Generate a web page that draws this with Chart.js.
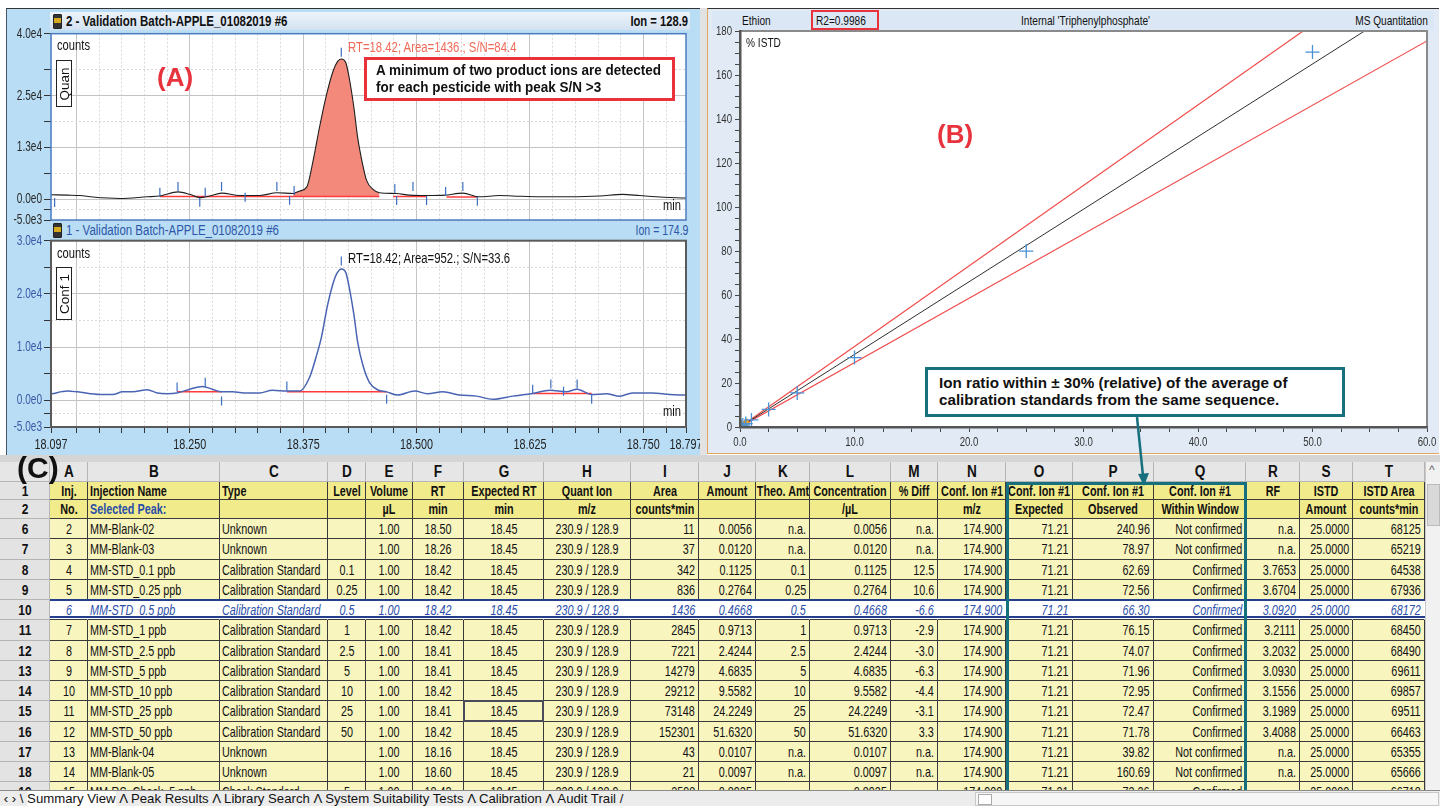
<!DOCTYPE html>
<html>
<head>
<meta charset="utf-8">
<title>Ethion - validation batch</title>
<script src="https://cdn.jsdelivr.net/npm/chart.js@4.4.1/dist/chart.umd.min.js"></script>
<style>
  html, body { margin: 0; padding: 0; background: #fff; }
  body { width: 1440px; height: 806px; position: relative; overflow: hidden;
         font-family: "Liberation Sans", Arial, sans-serif; color: #111; }
  .abs { position: absolute; }
  canvas { position: absolute; }
  /* the screenshot is squeezed sideways, so text is condensed */
  .n { display: inline-block; transform: scaleX(.75); transform-origin: 0 50%; white-space: nowrap; }
  .nr { display: inline-block; transform: scaleX(.75); transform-origin: 100% 50%; white-space: nowrap; }
  #leftPane { left: 6px; top: 8px; width: 694px; height: 447px; background: #b9ddf4; border-top: 1.5px solid #333; border-left: 1px solid #456; }
  #splitter { left: 700px; top: 8px; width: 7px; height: 447px; background: #e2e2e2; }
  #rightPane { left: 707px; top: 8px; width: 731px; height: 444px; background: #e1eaf5; border-top: 1.5px solid #333; border-left: 1.5px solid #e6a45a; border-bottom: 1.5px solid #e6a45a; }
  .hdr { height: 18px; line-height: 18px; font-size: 14px; white-space: nowrap; }
  #quanHdr { left: 50px; top: 12px; width: 640px; background: linear-gradient(#edf3fa, #d3e2f1); font-weight: bold; }
  #confHdr { left: 50px; top: 221px; width: 640px; color: #2d56a8; }
  .vial { width: 7px; height: 13px; top: 2px; left: 3px; background: linear-gradient(#333 0 25%, #d6a91f 25% 60%, #333 60% 100%); border: 1px solid #222; border-radius: 1px; }
  .hdr .t { position: absolute; left: 16px; top: 0; }
  .hdr .ion { position: absolute; right: 2px; top: 0; }
  .lbl { font-size: 14px; white-space: nowrap; }
  .vbox { width: 14px; background: #fff; border: 1px solid #222; }
  .vbox span { position: absolute; left: 50%; top: 50%; transform: translate(-50%, -50%) rotate(-90deg); font-size: 13.5px; white-space: nowrap; }
  .big { font-weight: bold; font-size: 26px; }
  .note { font-weight: bold; background: #fff; box-sizing: border-box; white-space: nowrap; }
  #noteA { left: 364px; top: 57px; width: 311px; height: 44px; border: 3px solid #e8323c; font-size: 14.5px; line-height: 17px; padding: 2px 0 0 9px; }
  #noteB { left: 925px; top: 367px; width: 420px; height: 50px; border: 3px solid #16707d; font-size: 15.2px; line-height: 17.3px; padding: 4px 0 0 11px; }
  #calHdr { left: 712px; top: 11px; width: 722px; height: 19px; background: #dbe7f4; font-size: 13.5px; line-height: 19px; }
  #calHdr > span { position: absolute; top: 0; }
  #r2box { left: 811px; top: 10px; width: 68px; height: 20px; box-sizing: border-box; border: 2.5px solid #e8323c; }
  #gridBox { left: 0; top: 455px; width: 1440px; height: 335px; overflow: hidden; background: #d5d5d5; }
  .cell { position: absolute; box-sizing: border-box; border-right: 1px solid #3a3a3a; border-bottom: 1px solid #3a3a3a;
          overflow: hidden; font-size: 15px; background: #f8f5bf; }
  .cell span { position: absolute; top: 0; white-space: nowrap; }
  .cell span.l { left: 2px; transform: scaleX(.72); transform-origin: 0 50%; }
  .cell span.r { right: 3px; transform: scaleX(.72); transform-origin: 100% 50%; }
  .cell span.c { left: 50%; transform: translateX(-50%) scaleX(.72); }
  .cell.hd { background: #f2eb8c; font-weight: bold; }
  .cell.let { background: #e6e6e6; font-weight: bold; font-size: 16px; border-color: #b5b5b5; }
  .cell.let span.c { transform: translateX(-50%) scaleX(.85); }
  .cell.num { background: #e3e3e3; font-weight: bold; border-color: #b5b5b5; }
  .cell.num span.c { transform: translateX(-50%) scaleX(.8); }
  .cell.sel { background: #fff; color: #2b4ea8; font-style: italic; border-right-color: #fff; }
  #tealBox { left: 1006px; top: 482px; width: 241px; height: 312px; box-sizing: border-box; border: 3px solid #16707d; }
  #tabs { left: 0; top: 790px; width: 1440px; height: 16px; background: #ececec; border-top: 1px solid #8a8a8a; font-size: 13.2px; line-height: 16px; white-space: nowrap; }
  #tabs .on { background: #fff; }
  #hscroll { left: 975px; top: 792px; width: 462px; height: 12px; background: #f6f6f6; border: 1px solid #c8c8c8; }
  #vscroll { left: 1425px; top: 462px; width: 15px; height: 328px; background: #f1f1f1; border-left: 1px solid #c8c8c8; }
</style>
</head>
<body>

<div id="leftPane" class="abs"></div>
<div id="splitter" class="abs"></div>
<div id="rightPane" class="abs"></div>

<div id="quanHdr" class="abs hdr"><div class="abs vial"></div><span class="t n" style="transform:scaleX(.82)">2 - Validation Batch-APPLE_01082019 #6</span><span class="ion nr" style="transform:scaleX(.8)">Ion = 128.9</span></div>
<div id="confHdr" class="abs hdr"><div class="abs vial"></div><span class="t n" style="transform:scaleX(.82)">1 - Validation Batch-APPLE_01082019 #6</span><span class="ion nr">Ion = 174.9</span></div>

<canvas id="quanChart" width="700" height="198" style="left:0;top:28px"></canvas>
<canvas id="confChart" width="700" height="225" style="left:0;top:235px"></canvas>

<div class="abs lbl" style="left:57px;top:37px"><span class="n" style="transform:scaleX(.8)">counts</span></div>
<div class="abs vbox" style="left:56px;top:60px;height:45px"><span>Quan</span></div>
<div class="abs lbl" style="left:348px;top:39px;color:#f06a58"><span class="n" style="transform:scaleX(.81)">RT=18.42; Area=1436.; S/N=84.4</span></div>
<div class="abs lbl" style="left:663px;top:197px"><span class="n" style="transform:scaleX(.8)">min</span></div>
<div class="abs big" style="left:157px;top:62px;color:#e8323c">(A)</div>
<div id="noteA" class="abs note"><span class="n" style="transform:scaleX(.93)">A minimum of two product ions are detected<br>for each pesticide with peak S/N &gt;3</span></div>

<div class="abs lbl" style="left:57px;top:245px"><span class="n" style="transform:scaleX(.8)">counts</span></div>
<div class="abs vbox" style="left:56px;top:267px;height:51px"><span>Conf 1</span></div>
<div class="abs lbl" style="left:348px;top:250px"><span class="n" style="transform:scaleX(.81)">RT=18.42; Area=952.; S/N=33.6</span></div>
<div class="abs lbl" style="left:663px;top:403px"><span class="n" style="transform:scaleX(.8)">min</span></div>

<div id="calHdr" class="abs"><span class="n" style="left:30px">Ethion</span><span class="n" style="left:104px">R2=0.9986</span><span class="n" style="left:309px">Internal 'Triphenylphosphate'</span><span class="nr" style="right:6px">MS Quantitation</span></div>
<div id="r2box" class="abs"></div>
<canvas id="calChart" width="735" height="455" style="left:705px;top:0"></canvas>
<div class="abs lbl" style="left:746px;top:35px;font-size:13.5px"><span class="n">% ISTD</span></div>
<div class="abs big" style="left:937px;top:119px;color:#e8323c">(B)</div>
<div id="noteB" class="abs note">Ion ratio within ± 30% (relative) of the average of<br>calibration standards from the same sequence.</div>

<div id="gridBox" class="abs"></div>
<div id="tealBox" class="abs"></div>
<div class="abs big" style="left:17px;top:451px;font-size:30px;color:#111">(C)</div>
<div id="vscroll" class="abs">
  <div class="abs" style="left:3px;top:1px;font-size:12px;color:#666">^</div>
  <div class="abs" style="left:1px;top:22px;width:11px;height:40px;background:#d9d9d9;border:1px solid #bbb"></div>
</div>
<div id="tabs" class="abs">&nbsp;‹ › \ <span class="on">Summary View</span> Λ Peak Results Λ Library Search Λ System Suitability Tests Λ Calibration Λ Audit Trail /</div>
<div id="hscroll" class="abs"><div class="abs" style="left:2px;top:1px;width:12px;height:9px;border:1px solid #aaa;background:#fff"></div></div>

<svg class="abs" style="left:0;top:0;pointer-events:none" width="1440" height="806">
  <line x1="1137" y1="417" x2="1143" y2="476" stroke="#16707d" stroke-width="2.5"/>
  <polygon points="1138,474 1149,473 1144,486" fill="#16707d"/>
</svg>

<script>
// ---- chromatograms (shared time axis, minutes)
const xTickLabels = ['18.097', '18.250', '18.375', '18.500', '18.625', '18.750', '18.797']
const xLabelValues = [18.097, 18.25, 18.375, 18.5, 18.625, 18.75, 18.797]
const xMajor = [18.125, 18.25, 18.375, 18.5, 18.625, 18.75]

// quantifier ion 230.9 > 128.9
const quanTime = [18.097, 18.115, 18.129, 18.143, 18.173, 18.203, 18.217, 18.237, 18.250, 18.261, 18.272, 18.285,
  18.305, 18.327, 18.346, 18.364, 18.371, 18.379, 18.386, 18.393, 18.401, 18.408, 18.413, 18.417, 18.422, 18.426,
  18.431, 18.435, 18.440, 18.445, 18.452, 18.459, 18.478, 18.492, 18.511, 18.531, 18.551, 18.569, 18.591, 18.606,
  18.636, 18.672, 18.702, 18.727, 18.746, 18.764, 18.797]
const quanCounts = [1100, 1000, 900, 550, 200, 600, 800, 1800, 1200, 400, 800, 1500,
  900, 900, 1600, 1400, 2000, 3000, 9400, 17400, 25500, 31000, 33300, 33900, 33000, 29000,
  22000, 15000, 9000, 4500, 2400, 1600, 1400, 1000, 900, 1000, 1500, 600, 900, 800,
  600, 600, 800, 1200, 900, 600, 300]
const quanYTicks = [-5000, 0, 12500, 25000, 40000]
const quanYLabels = ['-5.0e3', '0.0e0', '1.3e4', '2.5e4', '4.0e4']
const quanYMinor = [-2500, 6250, 18750, 31250]
const quanBaselines = [[18.217, 18.459, 700], [18.474, 18.511, 650], [18.533, 18.567, 550]]
const quanMarkT = [18.101, 18.217, 18.237, 18.261, 18.267, 18.285, 18.311, 18.346, 18.360, 18.365, 18.417,
  18.476, 18.478, 18.496, 18.511, 18.532, 18.551, 18.567]
const quanMarkY = [-800, 1700, 3100, -700, 1700, 3100, 500, 3100, -200, 2100, 35500,
  2600, -300, 3100, -300, 1900, 3100, -500]

// confirming ion 230.9 > 174.9
const confTime = [18.098, 18.115, 18.126, 18.151, 18.165, 18.176, 18.187, 18.203, 18.214, 18.225, 18.236, 18.250,
  18.264, 18.275, 18.285, 18.297, 18.313, 18.327, 18.341, 18.357, 18.371, 18.382, 18.390, 18.395, 18.402, 18.408,
  18.412, 18.417, 18.422, 18.426, 18.431, 18.435, 18.441, 18.448, 18.457, 18.467, 18.479, 18.498, 18.512, 18.529,
  18.547, 18.566, 18.584, 18.606, 18.628, 18.647, 18.665, 18.677, 18.693, 18.709, 18.724, 18.738, 18.760, 18.779, 18.797]
const confCounts = [1250, 1750, 1600, 1100, 1100, 1600, 1600, 2000, 1400, 1250, 1400, 2100,
  2600, 2100, 1600, 1600, 1400, 1400, 1900, 1750, 1750, 4300, 8600, 11800, 18000, 22000,
  23800, 24700, 24000, 21000, 16000, 11000, 6500, 3400, 2000, 1600, 1000, 1750, 1250, 1600,
  1000, 800, 200, 800, 1300, 1900, 1600, 2100, 1100, 1250, 800, 1400, 1400, 1100, 1000]
const confYTicks = [-5000, 0, 10000, 20000, 30000]
const confYLabels = ['-5.0e3', '0.0e0', '1.0e4', '2.0e4', '3.0e4']
const confYMinor = [-2500, 5000, 15000, 25000]
const confBaselines = [[18.236, 18.285, 1600], [18.357, 18.467, 1600], [18.628, 18.693, 1300]]
const confMarkT = [18.236, 18.267, 18.285, 18.357, 18.417, 18.467, 18.628, 18.648, 18.662, 18.677, 18.693]
const confMarkY = [2500, 3400, -100, 2700, 26200, 200, 2100, 3100, 1700, 3100, 200]

// ---- calibration curve (amount vs % ISTD response)
const calAmount = [0.1, 0.25, 0.5, 1, 2.5, 5, 10, 25, 50]
const calResponse = [0.38, 0.92, 1.55, 3.21, 8.01, 15.47, 31.56, 79.97, 170.4]
const qcAmount = [0.3, 0.45, 0.6]
const qcResponse = [1.0, 1.8, 2.2]
const fitX = [0, 60]
const fitY = [0, 198]
const upperY = [0, 219.6]
const lowerY = [0, 175.5]

// ---- results table
const colLetters = ['A','B','C','D','E','F','G','H','I','J','K','L','M','N','O','P','Q','R','S','T']
const colEdges = [50, 88, 220, 328, 366, 413, 464, 544, 631, 699, 756, 810, 891, 938, 1006, 1073, 1154, 1246, 1300, 1353, 1425]
const headRow1 = ['Inj.', 'Injection Name', 'Type', 'Level', 'Volume', 'RT', 'Expected RT', 'Quant Ion', 'Area', 'Amount',
  'Theo. Amt', 'Concentration', '% Diff', 'Conf. Ion #1', 'Conf. Ion #1', 'Conf. Ion #1', 'Conf. Ion #1', 'RF', 'ISTD', 'ISTD Area']
const headRow2 = ['No.', 'Selected Peak:', '', '', 'µL', 'min', 'min', 'm/z', 'counts*min', '', '', '/µL', '', 'm/z',
  'Expected', 'Observed', 'Within Window', '', 'Amount', 'counts*min']
const head1Align = ['c','l','l','c','c','c','c','c','c','c','c','c','c','c','c','c','c','c','c','c']
const bodyAlign = ['c','l','l','c','c','c','c','c','r','r','r','r','r','r','r','r','r','r','r','r']
const rowNums = [6, 7, 8, 9, 10, 11, 12, 13, 14, 15, 16, 17, 18, 19]
const rows = [
  ['2','MM-Blank-02','Unknown','','1.00','18.50','18.45','230.9 / 128.9','11','0.0056','n.a.','0.0056','n.a.','174.900','71.21','240.96','Not confirmed','n.a.','25.0000','68125'],
  ['3','MM-Blank-03','Unknown','','1.00','18.26','18.45','230.9 / 128.9','37','0.0120','n.a.','0.0120','n.a.','174.900','71.21','78.97','Not confirmed','n.a.','25.0000','65219'],
  ['4','MM-STD_0.1 ppb','Calibration Standard','0.1','1.00','18.42','18.45','230.9 / 128.9','342','0.1125','0.1','0.1125','12.5','174.900','71.21','62.69','Confirmed','3.7653','25.0000','64538'],
  ['5','MM-STD_0.25 ppb','Calibration Standard','0.25','1.00','18.42','18.45','230.9 / 128.9','836','0.2764','0.25','0.2764','10.6','174.900','71.21','72.56','Confirmed','3.6704','25.0000','67936'],
  ['6','MM-STD_0.5 ppb','Calibration Standard','0.5','1.00','18.42','18.45','230.9 / 128.9','1436','0.4668','0.5','0.4668','-6.6','174.900','71.21','66.30','Confirmed','3.0920','25.0000','68172'],
  ['7','MM-STD_1 ppb','Calibration Standard','1','1.00','18.42','18.45','230.9 / 128.9','2845','0.9713','1','0.9713','-2.9','174.900','71.21','76.15','Confirmed','3.2111','25.0000','68450'],
  ['8','MM-STD_2.5 ppb','Calibration Standard','2.5','1.00','18.41','18.45','230.9 / 128.9','7221','2.4244','2.5','2.4244','-3.0','174.900','71.21','74.07','Confirmed','3.2032','25.0000','68490'],
  ['9','MM-STD_5 ppb','Calibration Standard','5','1.00','18.41','18.45','230.9 / 128.9','14279','4.6835','5','4.6835','-6.3','174.900','71.21','71.96','Confirmed','3.0930','25.0000','69611'],
  ['10','MM-STD_10 ppb','Calibration Standard','10','1.00','18.42','18.45','230.9 / 128.9','29212','9.5582','10','9.5582','-4.4','174.900','71.21','72.95','Confirmed','3.1556','25.0000','69857'],
  ['11','MM-STD_25 ppb','Calibration Standard','25','1.00','18.41','18.45','230.9 / 128.9','73148','24.2249','25','24.2249','-3.1','174.900','71.21','72.47','Confirmed','3.1989','25.0000','69511'],
  ['12','MM-STD_50 ppb','Calibration Standard','50','1.00','18.42','18.45','230.9 / 128.9','152301','51.6320','50','51.6320','3.3','174.900','71.21','71.78','Confirmed','3.4088','25.0000','66463'],
  ['13','MM-Blank-04','Unknown','','1.00','18.16','18.45','230.9 / 128.9','43','0.0107','n.a.','0.0107','n.a.','174.900','71.21','39.82','Not confirmed','n.a.','25.0000','65355'],
  ['14','MM-Blank-05','Unknown','','1.00','18.60','18.45','230.9 / 128.9','21','0.0097','n.a.','0.0097','n.a.','174.900','71.21','160.69','Not confirmed','n.a.','25.0000','65666'],
  ['15','MM-RS_Check_5 ppb','Check Standard','5','1.00','18.42','18.45','230.9 / 128.9','2598','0.8935','','0.8935','','174.900','71.21','73.26','Confirmed','','25.0000','66718']
]
const selectedRow = 10

Chart.defaults.font.family = '"Liberation Sans", Arial, sans-serif'
Chart.defaults.color = '#222'

// white plot area + frame around it
const plotFrame = {
  id: 'plotFrame',
  defaults: { bg: '#fff', color: '#666', width: 1 },
  beforeDraw(chart, args, o) {
    const a = chart.chartArea, c = chart.ctx
    c.save()
    c.fillStyle = o.bg
    c.fillRect(a.left, a.top, a.right - a.left, a.bottom - a.top)
    c.restore()
  },
  afterDatasetsDraw(chart, args, o) {
    const a = chart.chartArea, c = chart.ctx
    c.save()
    c.strokeStyle = o.color
    c.lineWidth = o.width
    c.strokeRect(a.left, a.top, a.right - a.left, a.bottom - a.top)
    c.restore()
  }
}

// squeeze tick text sideways like the reference screenshot
const condense = {
  id: 'condense',
  defaults: { factor: 0.72 },
  beforeDraw(chart, args, o) {
    const ctx = chart.ctx
    if (ctx._condensed) return
    const fill = ctx.fillText
    ctx.fillText = function (text, x, y) {
      this.save()
      this.translate(x, y)
      this.scale(o.factor, 1)
      fill.call(this, text, 0, 0)
      this.restore()
    }
    ctx._condensed = true
  }
}

const noPad = s => { s.paddingLeft = 0; s.paddingRight = 0; s.paddingTop = 0; s.paddingBottom = 0 }
const pts = (xs, ys) => xs.map((x, i) => ({ x: x, y: ys[i] }))
const near = (v, list) => list.findIndex(m => Math.abs(m - v) < 1e-6)

// grid positions of the time axis: edges + every 0.025 min
const xGridTicks = [18.097]
for (let i = 0; i <= 26; i++) xGridTicks.push(+(18.125 + i * 0.025).toFixed(3))
xGridTicks.push(18.797)

function traceDatasets(time, counts, lineColor, lineWidth, baselines, markT, markY, peak) {
  const sets = [{
    data: pts(markT, markY), showLine: false, pointStyle: 'line', rotation: 90,
    pointRadius: 4.5, borderColor: '#3d6fc0', borderWidth: 1.2, order: 0
  }, {
    data: pts(time, counts), borderColor: lineColor, borderWidth: lineWidth,
    cubicInterpolationMode: 'monotone', pointRadius: 0, fill: false, order: 1
  }]
  baselines.forEach(b => sets.push({
    data: [{ x: b[0], y: b[2] }, { x: b[1], y: b[2] }],
    borderColor: '#ff3b3b', borderWidth: 1.5, pointRadius: 0, order: 2
  }))
  if (peak) {
    const p = pts(time, counts).filter(d => d.x >= peak.from && d.x <= peak.to)
    sets.push({
      data: p, borderColor: 'rgba(0,0,0,0)', backgroundColor: '#f3897a', pointRadius: 0,
      cubicInterpolationMode: 'monotone', fill: { value: peak.base }, order: 3
    })
  }
  return sets
}

function chromatogram(id, o) {
  const yGrid = o.yTicks.concat(o.yMinor).sort((a, b) => a - b)
  return new Chart(document.getElementById(id), {
    type: 'line',
    data: { datasets: o.datasets },
    options: {
      responsive: false,
      animation: false,
      layout: { padding: { top: 5, right: 14, left: 0, bottom: 0 } },
      plugins: {
        legend: { display: false },
        tooltip: { enabled: false },
        plotFrame: { bg: '#fff', color: o.frameColor, width: o.frameWidth },
        condense: { factor: 0.72 }
      },
      scales: {
        x: {
          type: 'linear', min: 18.097, max: 18.797,
          afterBuildTicks: s => { s.ticks = xGridTicks.map(v => ({ value: v })) },
          afterFit: s => { s.height = o.xHeight; noPad(s) },
          ticks: {
            display: o.xLabels, autoSkip: false, maxRotation: 0, padding: 3, color: '#222', font: { size: 15 },
            callback: v => { const i = near(v, xLabelValues); return i < 0 ? '' : xTickLabels[i] }
          },
          grid: {
            drawTicks: o.xLabels, tickLength: 6, tickColor: '#333',
            color: c => (c.tick && near(c.tick.value, xMajor) >= 0) ? '#c4c4c4' : '#d9d9d9'
          },
          border: { display: false, dash: c => (c.tick && near(c.tick.value, xMajor) < 0) ? [2, 2] : [] }
        },
        y: {
          min: o.yTicks[0], max: o.yTicks[o.yTicks.length - 1],
          afterBuildTicks: s => { s.ticks = yGrid.map(v => ({ value: v })) },
          afterFit: s => { s.width = 51; noPad(s) },
          ticks: {
            autoSkip: false, padding: 2, color: o.yColor, font: { size: 14 },
            callback: v => { const i = o.yTicks.indexOf(v); return i < 0 ? '' : o.yLabels[i] }
          },
          grid: {
            tickLength: 7, tickColor: '#333',
            color: c => (c.tick && o.yTicks.includes(c.tick.value)) ? '#c4c4c4' : '#d9d9d9'
          },
          border: { display: false, dash: c => (c.tick && !o.yTicks.includes(c.tick.value)) ? [2, 2] : [] }
        }
      }
    },
    plugins: [plotFrame, condense]
  })
}

chromatogram('quanChart', {
  datasets: traceDatasets(quanTime, quanCounts, '#1e1e1e', 1.1, quanBaselines, quanMarkT, quanMarkY,
    { from: 18.364, to: 18.459, base: 700 }),
  yTicks: quanYTicks, yLabels: quanYLabels, yMinor: quanYMinor, yColor: '#2a2a2a',
  xLabels: false, xHeight: 6, frameColor: '#4a7cc4', frameWidth: 1.5
})

chromatogram('confChart', {
  datasets: traceDatasets(confTime, confCounts, '#4a64b4', 1.5, confBaselines, confMarkT, confMarkY, null),
  yTicks: confYTicks, yLabels: confYLabels, yMinor: confYMinor, yColor: '#3a5ba8',
  xLabels: true, xHeight: 33, frameColor: '#5a5a5a', frameWidth: 2
})

// calibration curve
new Chart(document.getElementById('calChart'), {
  type: 'scatter',
  data: {
    datasets: [
      { data: pts(calAmount, calResponse), pointStyle: 'cross', pointRadius: 7, borderColor: '#4a92d4', borderWidth: 1.3, order: 0 },
      { data: pts(qcAmount, qcResponse), pointStyle: 'triangle', pointRadius: 3.5, backgroundColor: '#f2a22a', borderColor: '#e08a10', borderWidth: 1, order: 1 },
      { type: 'line', data: pts(fitX, fitY), borderColor: '#2f2f2f', borderWidth: 1, pointRadius: 0, order: 2 },
      { type: 'line', data: pts(fitX, upperY), borderColor: '#f04c4c', borderWidth: 1.2, pointRadius: 0, order: 3 },
      { type: 'line', data: pts(fitX, lowerY), borderColor: '#f04c4c', borderWidth: 1.2, pointRadius: 0, order: 4 }
    ]
  },
  options: {
    responsive: false,
    animation: false,
    layout: { padding: { top: 31, right: 13, left: 0, bottom: 0 } },
    plugins: {
      legend: { display: false },
      tooltip: { enabled: false },
      plotFrame: { bg: '#fff', color: '#8a8a8a', width: 2 },
      condense: { factor: 0.74 }
    },
    scales: {
      x: {
        type: 'linear', min: 0, max: 60,
        afterFit: s => { s.height = 28; noPad(s) },
        ticks: { stepSize: 2.5, autoSkip: false, maxRotation: 0, padding: 3, color: '#333', font: { size: 13 },
          callback: v => v % 10 === 0 ? v.toFixed(1) : '' },
        grid: { drawOnChartArea: false, tickLength: 5, tickColor: '#444' },
        border: { color: '#555', width: 2.5, z: 1 }
      },
      y: {
        min: 0, max: 180,
        afterFit: s => { s.width = 35; noPad(s) },
        ticks: { stepSize: 5, autoSkip: false, padding: 3, color: '#333', font: { size: 13 },
          callback: v => v % 20 === 0 ? v : '' },
        grid: { drawOnChartArea: false, tickLength: 5, tickColor: '#444' },
        border: { color: '#555', width: 2.5, z: 1 }
      }
    }
  },
  plugins: [plotFrame, condense]
})

// results table, drawn as a grid of cells
const gridBox = document.getElementById('gridBox')
const gridTop = 455
function cell(x1, x2, y, h, text, cls, align) {
  const d = document.createElement('div')
  d.className = 'cell ' + cls
  d.style.left = x1 + 'px'
  d.style.top = (y - gridTop) + 'px'
  d.style.width = (x2 - x1) + 'px'
  d.style.height = h + 'px'
  d.style.lineHeight = (h - 1) + 'px'
  const s = document.createElement('span')
  s.className = align
  s.textContent = text
  d.appendChild(s)
  gridBox.appendChild(d)
  return d
}

cell(0, 50, 462, 20, '', 'let', 'c')
colLetters.forEach((L, i) => cell(colEdges[i], colEdges[i + 1], 462, 20, L, 'let', 'c'))
cell(0, 50, 482, 18, '1', 'num', 'c')
cell(0, 50, 500, 19, '2', 'num', 'c')
headRow1.forEach((t, i) => cell(colEdges[i], colEdges[i + 1], 482, 18, t, 'hd', head1Align[i]))
headRow2.forEach((t, i) => {
  const d = cell(colEdges[i], colEdges[i + 1], 500, 19, t, 'hd', head1Align[i])
  if (i === 1) d.style.color = '#2b4ea8'
})

rows.forEach((r, k) => {
  const y = Math.round(519 + k * 20.25)
  const h = Math.round(519 + (k + 1) * 20.25) - y
  cell(0, 50, y, h, String(rowNums[k]), 'num', 'c')
  const sel = rowNums[k] === selectedRow
  r.forEach((t, i) => cell(colEdges[i], colEdges[i + 1], y, h, t, sel ? 'sel' : '', bodyAlign[i]))
  if (sel) {
    const line = document.createElement('div')
    line.className = 'abs'
    line.style.cssText = `left:50px;top:${y - gridTop - 1}px;width:1375px;height:${h - 1}px;border-top:2px solid #24408c;border-bottom:2px solid #24408c;box-sizing:border-box`
    gridBox.appendChild(line)
  }
  if (rowNums[k] === 15) {
    const box = document.createElement('div')
    box.className = 'abs'
    box.style.cssText = `left:${colEdges[6] - 1}px;top:${y - gridTop - 1}px;width:${colEdges[7] - colEdges[6] + 1}px;height:${h + 1}px;border:2px solid #4a4a5a;box-sizing:border-box`
    gridBox.appendChild(box)
  }
})
</script>
</body>
</html>
